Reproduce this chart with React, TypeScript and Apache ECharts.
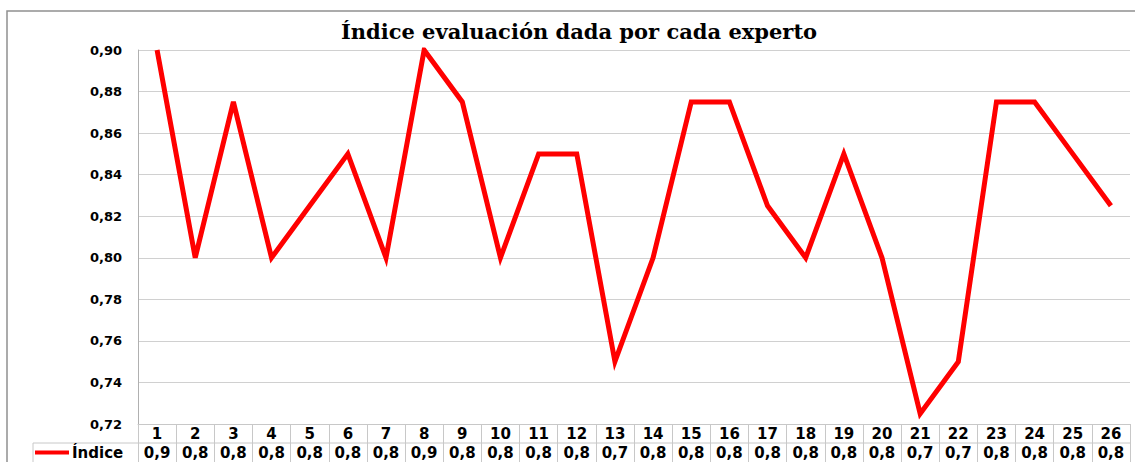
import React, { useEffect, useRef } from "react";
import * as echarts from "echarts";

const categories = ["1","2","3","4","5","6","7","8","9","10","11","12","13","14","15","16","17","18","19","20","21","22","23","24","25","26"];
const indiceValues = [0.9, 0.8, 0.875, 0.8, 0.825, 0.85, 0.8, 0.9, 0.875, 0.8, 0.85, 0.85, 0.75, 0.8, 0.875, 0.875, 0.825, 0.8, 0.85, 0.8, 0.725, 0.75, 0.875, 0.875, 0.85, 0.825];
const tableLabels = ["0,9","0,8","0,8","0,8","0,8","0,8","0,8","0,9","0,8","0,8","0,8","0,8","0,7","0,8","0,8","0,8","0,8","0,8","0,8","0,8","0,7","0,7","0,8","0,8","0,8","0,8"];
const seriesName = "Índice";
const titleText = "Índice evaluación dada por cada experto";

export default function App() {
  const ref = useRef<HTMLDivElement>(null);
  useEffect(() => {
    document.body.style.margin = "0";
    const chart = echarts.init(ref.current!, null, { renderer: "svg" });
    const gridLeft = 138, gridRight = 5, gridTop = 50, gridBottom = 38;
    chart.setOption({
      animation: false,
      backgroundColor: "#ffffff",
      title: {
        text: titleText,
        left: 574,
        textAlign: "center",
        top: 16,
        textStyle: { fontFamily: "DejaVu Serif", fontWeight: "bold", fontSize: 21, color: "#000" },
      },
      legend: {
        left: 35,
        top: 445,
        icon: "rect",
        itemWidth: 34,
        itemHeight: 4,
        padding: 0,
        data: [seriesName],
        textStyle: { fontFamily: "DejaVu Sans", fontWeight: "bold", fontSize: 15, color: "#000", padding: [0, 0, 0, -2] },
      },
      grid: { left: gridLeft, right: gridRight, top: gridTop, bottom: gridBottom, containLabel: false },
      xAxis: {
        type: "category",
        data: categories,
        boundaryGap: true,
        axisLine: { show: true, lineStyle: { color: "#c8c8c8", width: 1 } },
        axisTick: { show: true, length: 38, interval: 0, lineStyle: { color: "#c8c8c8", width: 1 } },
        axisLabel: {
          interval: 0,
          margin: 0,
          formatter: (v: string, i: number) => `{a|${v}}\n{b|${tableLabels[i]}}`,
          rich: {
            a: { fontFamily: "DejaVu Sans", fontWeight: "bold", fontSize: 15, lineHeight: 19, color: "#000" },
            b: { fontFamily: "DejaVu Sans", fontWeight: "bold", fontSize: 15, lineHeight: 19, color: "#000" },
          },
        },
      },
      yAxis: {
        type: "value",
        min: 0.72,
        max: 0.9,
        interval: 0.02,
        axisLine: { show: true, lineStyle: { color: "#b0b0b0", width: 1 } },
        axisTick: { show: false },
        splitLine: { show: true, lineStyle: { color: "#d0d0d0", width: 1 } },
        axisLabel: {
          margin: 16,
          formatter: (v: number) => v.toFixed(2).replace(".", ","),
          fontFamily: "DejaVu Sans",
          fontWeight: "bold",
          fontSize: 13,
          color: "#000",
        },
      },
      series: [
        {
          name: seriesName,
          type: "line",
          data: indiceValues,
          symbol: "none",
          lineStyle: { color: "#ff0000", width: 5, join: "miter" },
          itemStyle: { color: "#ff0000" },
        },
      ],
      graphic: [
        {
          type: "rect",
          shape: { x: 7, y: 11, width: 1200, height: 600 },
          style: { fill: "none", stroke: "#909090", lineWidth: 1.5 },
          silent: true,
        },
        {
          type: "line",
          shape: { x1: 33, y1: 443, x2: 1135 - gridRight, y2: 443 },
          style: { stroke: "#c8c8c8", lineWidth: 1 },
          silent: true,
        },
        {
          type: "line",
          shape: { x1: 33, y1: 443, x2: 33, y2: 470 },
          style: { stroke: "#c8c8c8", lineWidth: 1 },
          silent: true,
        },
      ],
    });
    return () => chart.dispose();
  }, []);
  return <div ref={ref} style={{ width: 1135, height: 462 }} />;
}
